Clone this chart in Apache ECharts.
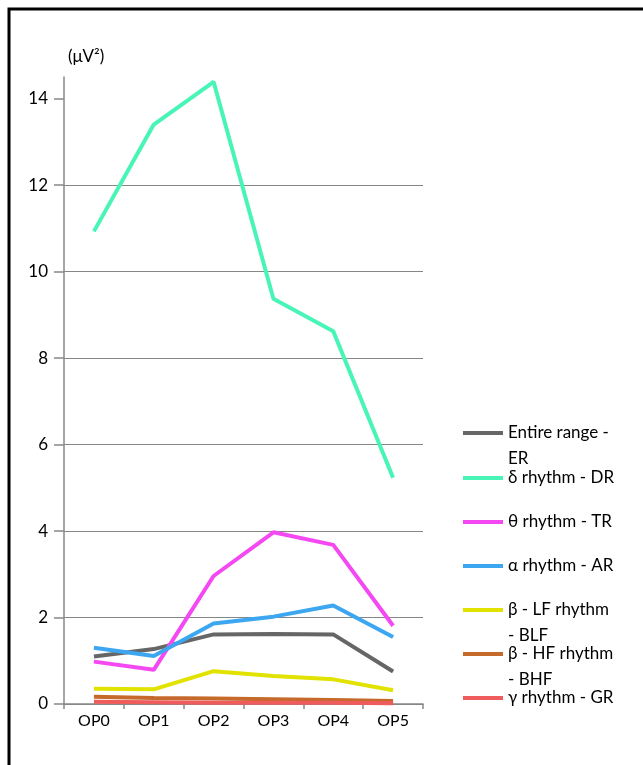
<!DOCTYPE html>
<html>
<head>
<meta charset="utf-8">
<script src="https://cdn.jsdelivr.net/npm/echarts@6/dist/echarts.min.js"></script>
<style>
html,body{margin:0;padding:0;background:#fff;}
#chart{width:643px;height:765px;}
</style>
</head>
<body>
<div id="chart"></div>
<script>
var categories = ['OP0', 'OP1', 'OP2', 'OP3', 'OP4', 'OP5'];
var yTicks = [0, 2, 4, 6, 8, 10, 12, 14];
var seriesNames = ['Entire range - ER', 'δ rhythm - DR', 'θ rhythm - TR', 'α rhythm - AR', 'β - LF rhythm - BLF', 'β - HF rhythm - BHF', 'γ rhythm - GR'];
var legendLabels = ['\nEntire range -\nER', 'δ rhythm - DR', 'θ rhythm - TR', 'α rhythm - AR', '\nβ - LF rhythm\n- BLF', '\nβ - HF rhythm\n- BHF', 'γ rhythm - GR'];
var erValues  = [1.10, 1.27, 1.61, 1.62, 1.61, 0.75];
var drValues  = [10.93, 13.40, 14.39, 9.37, 8.62, 5.23];
var trValues  = [0.98, 0.79, 2.96, 3.97, 3.68, 1.81];
var arValues  = [1.30, 1.11, 1.86, 2.02, 2.28, 1.55];
var blfValues = [0.35, 0.34, 0.76, 0.65, 0.57, 0.32];
var bhfValues = [0.17, 0.14, 0.13, 0.11, 0.09, 0.07];
var grValues  = [0.05, 0.04, 0.03, 0.03, 0.03, 0.02];
var colors = ['#666666', '#48F5B6', '#F448F2', '#3CA7F0', '#E2E200', '#C66A2B', '#EF5C5C'];
var allValues = [erValues, drValues, trValues, arValues, blfValues, bhfValues, grValues];

var FONT = 'Lato, "Open Sans", sans-serif';
var legendCenters = [433, 478, 522, 566, 610, 654, 698];

var series = seriesNames.map(function (n, i) {
  return {
    name: n, type: 'line', data: allValues[i], showSymbol: false, symbol: 'none',
    lineStyle: { width: 4, color: colors[i] }, itemStyle: { color: colors[i] },
    z: 2 + i, animation: false
  };
});

var legends = seriesNames.map(function (n, i) {
  var lines = legendLabels[i].split('\n').length;
  return {
    data: [n], orient: 'vertical', left: 463, top: legendCenters[i] - lines * 13,
    icon: 'rect', itemWidth: 40, itemHeight: 4, selectedMode: false, padding: 0,
    formatter: function () { return legendLabels[i]; },
    textStyle: { fontFamily: FONT, fontSize: 17, color: '#000', lineHeight: 26 }
  };
});

var chart = echarts.init(document.getElementById('chart'), null, { renderer: 'canvas' });
chart.setOption({
  backgroundColor: '#fff',
  animation: false,
  color: colors,
  graphic: [{
    type: 'rect', shape: { x: 9, y: 9, width: 700, height: 800 },
    style: { fill: 'none', stroke: '#000', lineWidth: 3 }, silent: true, z: 100
  }],
  grid: { left: 64, right: 220, top: 77, bottom: 61, containLabel: false },
  legend: legends,
  xAxis: {
    type: 'category', data: categories, boundaryGap: true,
    axisLine: { lineStyle: { color: '#888', width: 1.5 } },
    axisTick: { show: true, length: 5, alignWithLabel: false, lineStyle: { color: '#888', width: 1.5 } },
    axisLabel: { fontFamily: FONT, fontSize: 16, color: '#000', margin: 9 },
    splitLine: { show: false }
  },
  yAxis: {
    type: 'value', min: 0, max: 14.5, interval: 2,
    name: '(μV²)', nameLocation: 'end', nameGap: 12,
    nameTextStyle: { fontFamily: FONT, fontSize: 17, color: '#000', align: 'left', padding: [0, 0, 0, 4] },
    axisLine: { show: true, lineStyle: { color: '#888', width: 1.5 } },
    axisTick: { show: true, length: 10, inside: false, customValues: yTicks, lineStyle: { color: '#888', width: 1.5 } },
    axisLabel: { fontFamily: FONT, fontSize: 17, color: '#000', margin: 16,
      formatter: function (v) { return yTicks.indexOf(v) >= 0 ? String(v) : ''; } },
    splitLine: { show: true, showMaxLine: false, lineStyle: { color: '#868686', width: 1.2 } }
  },
  series: series
});
</script>
</body>
</html>
